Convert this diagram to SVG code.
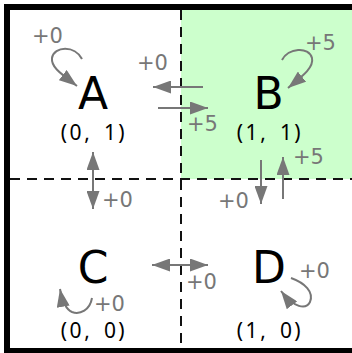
<svg xmlns="http://www.w3.org/2000/svg" width="352" height="353" viewBox="0 0 352 353">
<style>
.grid{stroke:#111;stroke-width:2;stroke-dasharray:10 7;fill:none}
.conn{stroke:#777;stroke-width:2;fill:none}
.lbl{font-family:"DejaVu Sans",sans-serif;font-size:21px;fill:#777}
.name{font-family:"DejaVu Sans",sans-serif;font-size:44px;fill:#000;text-anchor:middle}
.coord{font-family:"Noto Sans","DejaVu Sans",sans-serif;font-size:21px;fill:#000;text-anchor:middle}
</style>
<defs>
<marker id="ah" viewBox="0 0 18 13" refX="18" refY="6.5" markerWidth="18" markerHeight="13" markerUnits="userSpaceOnUse" orient="auto-start-reverse">
<path d="M0,0 L18,6.5 L0,13 z" fill="#777"/>
</marker>
</defs>
<rect x="0" y="0" width="352" height="353" fill="#fff"/>
<rect x="181" y="10" width="171" height="169" fill="#ccffcc"/>
<rect x="7" y="7" width="348" height="344" fill="none" stroke="#000" stroke-width="6"/>
<g id="grid">
<line class="grid" x1="181" y1="10" x2="181" y2="349"/>
<line class="grid" x1="10" y1="179" x2="352" y2="179"/>
</g>
<g id="A">
<text class="name" x="93" y="109">A</text>
<text class="coord" x="64 75.5 87 98.5 110 121.5" y="140" xml:space="preserve">(0, 1)</text>
</g>
<g id="B">
<text class="name" x="268.5" y="109">B</text>
<text class="coord" x="240 251.5 263 274.5 286 297.5" y="140" xml:space="preserve">(1, 1)</text>
</g>
<g id="C">
<text class="name" x="93" y="283">C</text>
<text class="coord" x="64 75.5 87 98.5 110 121.5" y="338" xml:space="preserve">(0, 0)</text>
</g>
<g id="D">
<text class="name" x="269" y="283">D</text>
<text class="coord" x="240 251.5 263 274.5 286 297.5" y="338" xml:space="preserve">(1, 0)</text>
</g>
<g id="connectors">
<path class="conn" d="M82,59 C75,45 54,46 52,58 C51,67 60,73 77,86" marker-end="url(#ah)"/>
<path class="conn" d="M282,60 C288,48 309,46 312,58 C314,67 304,75 288,88" marker-end="url(#ah)"/>
<path class="conn" d="M92,298 C90,310 80,315 72,312 C65,309 62,300 60,289" marker-end="url(#ah)"/>
<path class="conn" d="M291,278 C305,283 314,292 310,302 C306,310 294,308 281,291" marker-end="url(#ah)"/>
<line class="conn" x1="203" y1="87" x2="153" y2="87" marker-end="url(#ah)"/>
<line class="conn" x1="158" y1="108" x2="208" y2="108" marker-end="url(#ah)"/>
<line class="conn" x1="93" y1="152" x2="93" y2="209" marker-start="url(#ah)" marker-end="url(#ah)"/>
<line class="conn" x1="152" y1="265" x2="208" y2="265" marker-start="url(#ah)" marker-end="url(#ah)"/>
<line class="conn" x1="283" y1="199" x2="283" y2="157" marker-end="url(#ah)"/>
<line class="conn" x1="261" y1="160" x2="261" y2="204" marker-end="url(#ah)"/>
<text class="lbl" x="32" y="43">+0</text>
<text class="lbl" x="137" y="70">+0</text>
<text class="lbl" x="187" y="131">+5</text>
<text class="lbl" x="305" y="50">+5</text>
<text class="lbl" x="293" y="164">+5</text>
<text class="lbl" x="218" y="208">+0</text>
<text class="lbl" x="102" y="207">+0</text>
<text class="lbl" x="186" y="289">+0</text>
<text class="lbl" x="94" y="311">+0</text>
<text class="lbl" x="299" y="278">+0</text>
</g>
</svg>
